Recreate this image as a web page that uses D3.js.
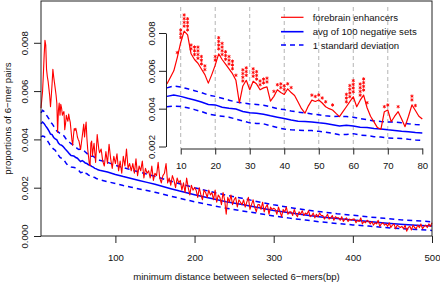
<!DOCTYPE html>
<html lang="en">
<head>
<meta charset="UTF-8" />
<title>6-mer pair distances</title>
<script src="https://d3js.org/d3.v7.min.js"></script>
<style>
  body { margin: 0; background: #fff; }
  svg { display: block; background: #fff; }
  text { font-family: "Liberation Sans", Arial, sans-serif; font-size: 9.6px; fill: #111; }
  .axis line, .axis path { stroke: #222; }
  .axis text { font-size: 9.6px; fill: #111; }
</style>
</head>
<body>
<script>
// all proportions below are in units of 10^-3
const UNIT = 1e-3;

// forebrain enhancers, one value per bp from 6 to 80
const redNear = [
  5.3, 5.65, 6.0, 6.7, 7.5, 8.1, 7.9, 6.9, 6.6, 6.4,
  6.1, 5.8, 5.35, 5.8, 6.3, 6.9, 6.6, 6.35, 6.1, 5.85,
  5.5, 4.3, 5.2, 5.5, 5.0, 5.45, 5.3, 5.0, 5.1, 5.15,
  4.4, 4.65, 5.0, 4.85, 4.75, 5.05, 4.85, 4.7, 4.35, 4.0,
  3.76, 4.15, 4.45, 4.38, 4.46, 4.3, 4.1, 4.0, 3.93, 3.75,
  3.58, 3.84, 4.1, 4.37, 4.63, 4.1, 4.45, 4.72, 4.05, 3.6,
  3.3, 3.0, 2.91, 3.84, 3.93, 3.31, 3.6, 3.84, 3.45, 3.05,
  3.6, 4.2, 3.9, 3.6, 3.45
];
// forebrain enhancers, every 2 bp from 82 to 500
const redFar = [
  3.6, 3.1, 2.9, 3.5, 3.0, 3.8, 3.2, 2.8, 3.3, 3.0,
  3.4, 2.7, 3.1, 2.6, 3.3, 2.9, 3.6, 2.8, 3.0, 2.7,
  3.0, 2.6, 3.2, 2.5, 2.9, 2.7, 3.1, 2.4, 2.8, 2.6,
  2.7, 2.4, 2.9, 2.3, 2.6, 2.5, 3.05, 2.4, 2.2, 2.5,
  2.6, 3.0, 2.2, 2.4, 2.1, 2.5, 2.3, 2.0, 2.4, 2.2,
  2.3, 1.9, 2.2, 1.8, 2.4, 2.0, 1.7, 2.1, 1.9, 2.0,
  1.9, 1.6, 2.0, 1.7, 1.5, 1.9, 1.8, 1.6, 1.9, 1.7,
  1.8, 1.5, 1.9, 1.4, 1.7, 1.6, 1.3, 1.8, 1.5, 0.9,
  1.6, 1.4, 1.7, 1.3, 1.5, 1.6, 1.2, 1.5, 1.4, 1.3,
  1.5, 1.2, 1.4, 1.6, 1.1, 1.3, 1.5, 1.2, 1.0, 1.3,
  1.3, 1.1, 1.4, 1.0, 1.2, 1.3, 0.9, 1.2, 1.1, 1.15,
  1.1, 0.9, 1.2, 1.0, 0.8, 1.1, 1.0, 1.2, 0.9, 1.0,
  1.0, 0.85, 1.1, 0.9, 0.8, 1.0, 0.9, 1.05, 0.85, 0.95,
  0.9, 1.05, 0.8, 0.85, 0.95, 0.75, 0.9, 0.8, 0.95, 0.85,
  0.85, 0.7, 0.8, 0.9, 0.7, 0.75, 0.85, 0.65, 0.8, 0.75,
  0.75, 0.65, 0.8, 0.6, 0.7, 0.75, 0.6, 0.7, 0.65, 0.7,
  0.7, 0.55, 0.65, 0.6, 0.75, 0.5, 0.6, 0.55, 0.65, 0.6,
  0.5, 0.6, 0.45, 0.55, 0.5, 0.65, 0.4, 0.5, 0.55, 0.45,
  0.5, 0.4, 0.55, 0.35, 0.45, 0.5, 0.3, 0.45, 0.4, 0.35,
  0.4, 0.3, 0.45, 0.2, 0.35, 0.4, 0.25, 0.45, 0.35, 0.3,
  0.45, 0.35, 0.5, 0.3, 0.4, 0.45, 0.35, 0.5, 0.4, 0.55
];
const redDist = d3.range(6, 81).concat(d3.range(82, 501, 2));
const redVals = redNear.concat(redFar);

// avg of 100 negative sets and +/- 1 sd
const negDist = d3.range(6, 81, 2).concat(d3.range(90, 201, 10), d3.range(220, 501, 20));
const negMean = [
  4.65, 4.72, 4.65, 4.55, 4.46, 4.35, 4.22, 4.2, 4.08, 4.02,
  3.98, 3.85, 3.78, 3.76, 3.7, 3.62, 3.55, 3.48, 3.4, 3.33,
  3.32, 3.3, 3.25, 3.22, 3.15, 3.08, 3.12, 3.08, 3.02, 3.0,
  2.95, 2.93, 2.88, 2.85, 2.8, 2.78, 2.74, 2.72,
  2.65, 2.55, 2.46, 2.38, 2.3, 2.22, 2.14, 2.05, 1.96, 1.87, 1.79, 1.71,
  1.56, 1.42, 1.3, 1.18, 1.06, 0.96, 0.87, 0.79, 0.72, 0.66, 0.6, 0.54, 0.49, 0.45, 0.41
];
const negUpper = [
  5.1, 5.2, 5.15, 5.05, 4.95, 4.85, 4.72, 4.65, 4.55, 4.45,
  4.35, 4.3, 4.25, 4.22, 4.18, 4.1, 4.0, 3.95, 3.88, 3.82,
  3.78, 3.72, 3.68, 3.62, 3.58, 3.6, 3.58, 3.55, 3.48, 3.42,
  3.35, 3.32, 3.3, 3.3, 3.25, 3.2, 3.16, 3.14,
  3.05, 2.93, 2.83, 2.74, 2.65, 2.56, 2.47, 2.37, 2.27, 2.17, 2.09, 2.0,
  1.84, 1.69, 1.56, 1.42, 1.29, 1.18, 1.08, 1.0, 0.92, 0.86, 0.79, 0.73, 0.67, 0.63, 0.59
];
const negLower = [
  4.1, 4.14, 4.12, 4.05, 3.95, 3.85, 3.72, 3.65, 3.6, 3.55,
  3.45, 3.35, 3.25, 3.22, 3.2, 3.1, 3.0, 2.92, 2.88, 2.86,
  2.85, 2.84, 2.8, 2.76, 2.7, 2.62, 2.64, 2.68, 2.6, 2.58,
  2.52, 2.5, 2.45, 2.44, 2.42, 2.38, 2.35, 2.33,
  2.25, 2.17, 2.09, 2.02, 1.95, 1.88, 1.81, 1.73, 1.65, 1.57, 1.49, 1.42,
  1.28, 1.15, 1.04, 0.94, 0.83, 0.74, 0.66, 0.58, 0.52, 0.46, 0.41, 0.35, 0.31, 0.27, 0.23
];

// significance marks in the inset: distance and number of stacked stars
const sigDist = [9, 10, 11, 12, 13, 14, 15, 16, 17, 20, 21, 22, 23, 24, 25, 26, 28, 29, 31, 32, 33, 34, 35,
                 37, 38, 39, 40, 41, 42, 48, 49, 50, 51, 52, 54, 58, 59, 60, 62, 63, 64, 69, 70, 73, 77, 78];
const sigCount = [1, 3, 4, 4, 2, 3, 4, 3, 2, 2, 4, 4, 3, 3, 3, 1, 4, 3, 3, 3, 2, 2, 2,
                  1, 1, 2, 2, 1, 1, 1, 1, 1, 1, 1, 1, 3, 4, 4, 4, 4, 1, 1, 1, 1, 2, 1];

const mainXTicks = [100, 200, 300, 400, 500];
const mainYTicks = [0, 0.002, 0.004, 0.006, 0.008];
const insetXTicks = [10, 20, 30, 40, 50, 60, 70, 80];
const insetYTicks = [0.002, 0.004, 0.006, 0.008];
const gridDist = [10, 20, 30, 40, 50, 60, 70];
const legendItems = [
  { label: "forebrain enhancers", color: "#ff0000", dash: null, width: 1.2 },
  { label: "avg of 100 negative sets", color: "#0000ff", dash: null, width: 1.6 },
  { label: "1 standard deviation", color: "#0000ff", dash: "5,4", width: 1.6 }
];

const width = 440, height = 282;
const plot = { left: 41, right: 432, top: 1, bottom: 236 };

const svg = d3.select("body").append("svg")
  .attr("width", width).attr("height", height);

// ---------- main plot ----------
const xMain = d3.scaleLinear().domain([6, 500]).range([plot.left, plot.right]);
const yMain = d3.scaleLinear().domain([0, 0.00973]).range([plot.bottom, plot.top]);

const redPts = redDist.map((d, i) => [d, redVals[i] * UNIT]);
const meanPts = negDist.map((d, i) => [d, negMean[i] * UNIT]);
const upPts = negDist.map((d, i) => [d, negUpper[i] * UNIT]);
const loPts = negDist.map((d, i) => [d, negLower[i] * UNIT]);

const mainLine = d3.line().x(d => xMain(d[0])).y(d => yMain(d[1]));

const mainG = svg.append("g");
mainG.append("path").attr("d", mainLine(upPts))
  .attr("fill", "none").attr("stroke", "#0000ff").attr("stroke-width", 1.5).attr("stroke-dasharray", "5,4");
mainG.append("path").attr("d", mainLine(loPts))
  .attr("fill", "none").attr("stroke", "#0000ff").attr("stroke-width", 1.5).attr("stroke-dasharray", "5,4");
mainG.append("path").attr("d", mainLine(meanPts))
  .attr("fill", "none").attr("stroke", "#0000ff").attr("stroke-width", 1.5);
mainG.append("path").attr("d", mainLine(redPts))
  .attr("fill", "none").attr("stroke", "#ff0000").attr("stroke-width", 1.1).attr("stroke-linejoin", "round");

svg.append("rect")
  .attr("x", plot.left).attr("y", plot.top)
  .attr("width", plot.right - plot.left).attr("height", plot.bottom - plot.top)
  .attr("fill", "none").attr("stroke", "#222").attr("stroke-width", 1);

svg.append("g").attr("class", "axis")
  .attr("transform", `translate(0,${plot.bottom})`)
  .call(d3.axisBottom(xMain).tickValues(mainXTicks).tickSize(7).tickPadding(11).tickFormat(d3.format("d")))
  .call(g => g.select(".domain").remove());

svg.append("g").attr("class", "axis")
  .attr("transform", `translate(${plot.left},0)`)
  .call(d3.axisLeft(yMain).tickValues(mainYTicks).tickSize(7).tickFormat(d3.format(".3f")))
  .call(g => g.select(".domain").remove())
  .call(g => g.selectAll(".tick text")
    .attr("transform", "rotate(-90)")
    .attr("text-anchor", "middle")
    .attr("x", 0).attr("y", -13.5).attr("dy", 0));

svg.append("text")
  .attr("x", (plot.left + plot.right) / 2).attr("y", 279.5)
  .attr("text-anchor", "middle")
  .text("minimum distance between selected 6\u2212mers(bp)");

svg.append("text")
  .attr("transform", `translate(10.5,${(plot.top + plot.bottom) / 2}) rotate(-90)`)
  .attr("text-anchor", "middle")
  .text("proportions of 6\u2212mer pairs");

// ---------- inset ----------
const inset = { left: 166.9, right: 422.3, top: 7, bottom: 148.5 };
const xInset = d3.scaleLinear().domain([6, 80]).range([inset.left, inset.right]);
const yInset = d3.scaleLinear().domain([0.002, 0.008]).range([146.5, 33]);
const insetLine = d3.line().x(d => xInset(d[0])).y(d => yInset(d[1]));
const near = pts => pts.filter(d => d[0] <= 80);

const insetG = svg.append("g");
insetG.selectAll("line.grid").data(gridDist).join("line")
  .attr("class", "grid")
  .attr("x1", d => xInset(d)).attr("x2", d => xInset(d))
  .attr("y1", inset.top).attr("y2", inset.bottom)
  .attr("stroke", "#b4b4b4").attr("stroke-width", 1).attr("stroke-dasharray", "4,3");

insetG.append("path").attr("d", insetLine(near(upPts)))
  .attr("fill", "none").attr("stroke", "#0000ff").attr("stroke-width", 1.5).attr("stroke-dasharray", "5,4");
insetG.append("path").attr("d", insetLine(near(loPts)))
  .attr("fill", "none").attr("stroke", "#0000ff").attr("stroke-width", 1.5).attr("stroke-dasharray", "5,4");
insetG.append("path").attr("d", insetLine(near(meanPts)))
  .attr("fill", "none").attr("stroke", "#0000ff").attr("stroke-width", 1.5);
insetG.append("path").attr("d", insetLine(near(redPts)))
  .attr("fill", "none").attr("stroke", "#ff0000").attr("stroke-width", 1.2).attr("stroke-linejoin", "round");

// stacked stars above the enhancer line
const starType = d3.symbolAsterisk || d3.symbolCross;
const star = d3.symbol().type(starType).size(8);
const stars = [];
sigDist.forEach((d, i) => {
  const v = redNear[d - 6] * UNIT;
  for (let k = 0; k < sigCount[i]; k++) {
    stars.push({ x: xInset(d), y: yInset(v) - 5 - k * 3.7 });
  }
});
insetG.selectAll("path.star").data(stars).join("path")
  .attr("class", "star")
  .attr("d", star)
  .attr("transform", d => `translate(${d.x},${d.y})`)
  .attr("fill", "#ff0000").attr("stroke", "#ff0000").attr("stroke-width", 0.9);

const xInsetAxis = xInset.copy().domain([10, 80]).range([xInset(10), xInset(80)]);
svg.append("g").attr("class", "axis")
  .attr("transform", `translate(0,${inset.bottom})`)
  .call(d3.axisBottom(xInsetAxis).tickValues(insetXTicks).tickSize(6).tickSizeOuter(0).tickPadding(8));

svg.append("g").attr("class", "axis")
  .attr("transform", `translate(${inset.left - 0.9},0)`)
  .call(d3.axisLeft(yInset).tickValues(insetYTicks).tickSize(7).tickSizeOuter(0).tickFormat(d3.format(".3f")))
  .call(g => g.selectAll(".tick text")
    .attr("transform", "rotate(-90)")
    .attr("text-anchor", "middle")
    .attr("x", 0).attr("y", -11.5).attr("dy", 0));

// ---------- legend ----------
const legend = svg.append("g");
const legendY = [17.3, 31.7, 45];
legendItems.forEach((item, i) => {
  legend.append("line")
    .attr("x1", 281).attr("x2", 303.5)
    .attr("y1", legendY[i]).attr("y2", legendY[i])
    .attr("stroke", item.color).attr("stroke-width", item.width)
    .attr("stroke-dasharray", item.dash);
  legend.append("text")
    .attr("x", 312.7).attr("y", legendY[i] + 3.5)
    .text(item.label);
});
</script>
</body>
</html>
